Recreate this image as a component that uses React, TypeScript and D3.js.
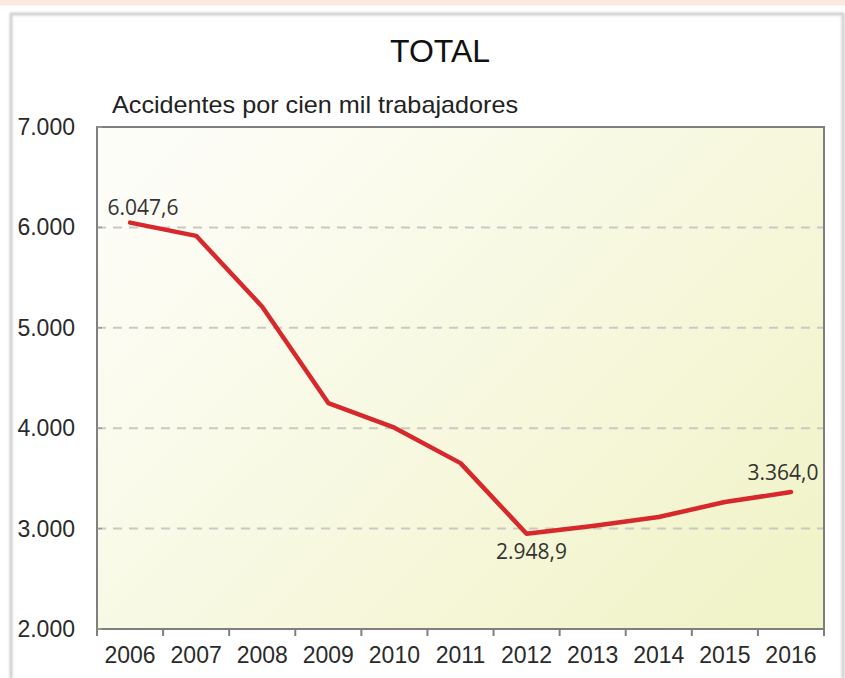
import React from "react";
import * as d3 from "d3";

const years = ["2006", "2007", "2008", "2009", "2010", "2011", "2012", "2013", "2014", "2015", "2016"];
const values = [6047.6, 5916, 5210, 4250, 4005, 3652, 2948.9, 3025, 3115, 3265, 3364.0];
const yTicks = [2000, 3000, 4000, 5000, 6000, 7000];
const labeledYears = ["2006", "2012", "2016"];
const title = "TOTAL";
const subtitle = "Accidentes por cien mil trabajadores";

const W = 845;
const H = 678;
const plot = { left: 97, right: 824, top: 127, bottom: 629 };

const fmtTick = (v: number) => d3.format(",.0f")(v).replace(/,/g, ".");
const fmtVal = (v: number) => {
  const s = d3.format(",.1f")(v);
  return s.replace(/,/g, "#").replace(".", ",").replace(/#/g, ".");
};

export default function App() {
  const x = d3.scaleBand<string>().domain(years).range([plot.left, plot.right]).padding(0);
  const y = d3.scaleLinear().domain([2000, 7000]).range([plot.bottom, plot.top]);
  const cx = (yr: string) => (x(yr) as number) + x.bandwidth() / 2;
  const line = d3
    .line<number>()
    .x((_, i) => cx(years[i]))
    .y((d) => y(d));

  const labelOffsets: Record<string, [number, number, string]> = {
    "2006": [13, -8, "middle"],
    "2012": [5, 25, "middle"],
    "2016": [-8, -12, "middle"],
  };

  const axisFont = "'Liberation Sans', Arial, sans-serif";

  return (
    <svg width={W} height={H} style={{ position: "absolute", left: 0, top: 0 }}>
      <defs>
        <linearGradient id="bg" x1="0" y1="0.15" x2="1" y2="0.85">
          <stop offset="0" stopColor="#fdfdf8" />
          <stop offset="0.45" stopColor="#f8f9e3" />
          <stop offset="1" stopColor="#f1f3c8" />
        </linearGradient>
        <filter id="sh" x="-5%" y="-5%" width="110%" height="110%">
          <feGaussianBlur stdDeviation="1.2" />
        </filter>
      </defs>
      <rect x={0} y={0} width={W} height={H} fill="#ffffff" />
      <rect x={0} y={0} width={W} height={5.5} fill="#fde8e1" />
      {/* outer frame */}
      <path d={`M11,${H} V14 H843 V${H}`} fill="none" stroke="#bdbdbd" strokeWidth={3} filter="url(#sh)" opacity={0.7} />
      <path d={`M11,${H} V14 H843 V${H}`} fill="none" stroke="#d6d6d6" strokeWidth={1.5} />

      <text x={440} y={62} textAnchor="middle" fontFamily={axisFont} fontSize={32} fill="#111">
        {title}
      </text>
      <text
        x={112}
        y={113}
        fontFamily={axisFont}
        fontSize={24}
        fill="#222"
        textLength={406}
        lengthAdjust="spacingAndGlyphs"
      >
        {subtitle}
      </text>

      {/* plot background */}
      <rect
        x={plot.left}
        y={plot.top}
        width={plot.right - plot.left}
        height={plot.bottom - plot.top}
        fill="url(#bg)"
      />
      {/* gridlines */}
      {yTicks
        .filter((t) => t > 2000 && t < 7000)
        .map((t) => (
          <line
            key={t}
            x1={plot.left}
            x2={plot.right}
            y1={y(t)}
            y2={y(t)}
            stroke="#c9c9c4"
            strokeWidth={2}
            strokeDasharray="9,7"
          />
        ))}
      {/* plot border */}
      <rect
        x={plot.left}
        y={plot.top}
        width={plot.right - plot.left}
        height={plot.bottom - plot.top}
        fill="none"
        stroke="#7f7f7f"
        strokeWidth={2}
      />
      {/* x ticks */}
      {years.map((yr) => (
        <line key={"t" + yr} x1={x(yr)} x2={x(yr)} y1={plot.bottom} y2={plot.bottom + 7} stroke="#7f7f7f" strokeWidth={2} />
      ))}
      <line x1={plot.right} x2={plot.right} y1={plot.bottom} y2={plot.bottom + 7} stroke="#7f7f7f" strokeWidth={2} />
      {/* y ticks */}
      {yTicks.map((t) => (
        <line key={"yt" + t} x1={plot.left} x2={plot.left + 5} y1={y(t)} y2={y(t)} stroke="#9a9a9a" strokeWidth={1.5} />
      ))}
      {/* y labels */}
      {yTicks.map((t) => (
        <text key={"yl" + t} x={75} y={y(t) + 8} textAnchor="end" fontFamily={axisFont} fontSize={23} fill="#2a2a2a">
          {fmtTick(t)}
        </text>
      ))}
      {/* x labels */}
      {years.map((yr) => (
        <text key={"xl" + yr} x={cx(yr)} y={663} textAnchor="middle" fontFamily={axisFont} fontSize={23} fill="#2a2a2a">
          {yr}
        </text>
      ))}
      {/* line */}
      <path d={line(values) || ""} fill="none" stroke="#d7282c" strokeWidth={4.5} strokeLinejoin="round" strokeLinecap="round" />
      {/* data labels */}
      {labeledYears.map((yr) => {
        const i = years.indexOf(yr);
        const [dx, dy, anchor] = labelOffsets[yr];
        return (
          <text
            key={"dl" + yr}
            x={cx(yr) + dx}
            y={y(values[i]) + dy}
            textAnchor={anchor as any}
            fontFamily="'Open Sans', 'Noto Sans', sans-serif"
            fontSize={21}
            fill="#333"
          >
            {fmtVal(values[i])}
          </text>
        );
      })}
    </svg>
  );
}
